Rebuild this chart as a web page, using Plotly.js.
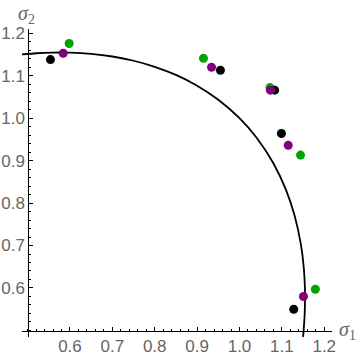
<!DOCTYPE html>
<html>
<head>
<meta charset="utf-8">
<script src="https://cdn.plot.ly/plotly-3.0.1.min.js"></script>
<style>
  body { margin: 0; background: #fff; }
  #plot { width: 360px; height: 355px; }
</style>
</head>
<body>
<div id="plot"></div>
<script>
// yield curve
var curveX = [0.484, 0.52, 0.56, 0.6, 0.65, 0.7, 0.75, 0.8, 0.85, 0.9, 0.95, 1.0, 1.04, 1.08, 1.11, 1.13, 1.145, 1.1515, 1.1544, 1.1547, 1.1539, 1.1514, 1.15];
var curveY = [1.150, 1.153, 1.1545, 1.1544, 1.1515, 1.1453, 1.1353, 1.1211, 1.1019, 1.0765, 1.0434, 1.0, 0.9545, 0.8938, 0.8305, 0.7707, 0.7019, 0.65, 0.6, 0.577, 0.54, 0.5, 0.485];

// points
var blackX = [0.554, 0.955, 1.083, 1.099, 1.128];
var blackY = [1.138, 1.113, 1.066, 0.964, 0.550];
var greenX = [0.598, 0.915, 1.072, 1.144, 1.179];
var greenY = [1.176, 1.141, 1.072, 0.913, 0.597];
var purpleX = [0.584, 0.934, 1.073, 1.115, 1.151];
var purpleY = [1.153, 1.120, 1.066, 0.936, 0.580];

var majorTicks = [0.6, 0.7, 0.8, 0.9, 1.0, 1.1, 1.2];
var tickLabels = ['0.6', '0.7', '0.8', '0.9', '1.0', '1.1', '1.2'];

var tickFont = {family: 'Liberation Sans, Arial, sans-serif', size: 17, color: '#666666'};

function dots(x, y, color) {
  return {
    x: x, y: y,
    type: 'scatter',
    mode: 'markers',
    marker: {color: color, size: 9},
    hoverinfo: 'skip'
  };
}

var traces = [
  {
    x: curveX, y: curveY,
    type: 'scatter',
    mode: 'lines',
    line: {color: 'black', width: 1.8, shape: 'spline', smoothing: 0.6},
    hoverinfo: 'skip'
  },
  dots(greenX, greenY, '#00a400'),
  dots(blackX, blackY, '#000000'),
  dots(purpleX, purpleY, '#800080')
];

function axis(range, pos) {
  return {
    range: range,
    anchor: 'free',
    position: pos,
    showline: true,
    linecolor: 'black',
    linewidth: 1,
    showgrid: false,
    zeroline: false,
    ticks: 'inside',
    ticklen: 4,
    tickcolor: 'black',
    tickmode: 'array',
    tickvals: majorTicks,
    ticktext: tickLabels,
    tickfont: tickFont,
    automargin: false,
    minor: {tickmode: 'linear', tick0: 0, dtick: 0.02, ticks: 'inside', ticklen: 2, tickcolor: 'black'}
  };
}

var layout = {
  width: 360,
  height: 355,
  margin: {l: 22, r: 28, t: 29, b: 18},
  paper_bgcolor: 'white',
  plot_bgcolor: 'white',
  showlegend: false,
  xaxis: axis([0.4868, 1.2183], 0.0211),
  yaxis: axis([0.4845, 1.2101], 0.0203),
  annotations: [
    {
      text: '<i>σ</i><sub>2</sub>',
      xref: 'paper', yref: 'paper',
      x: 0.0203, y: 1.0, xanchor: 'center', yanchor: 'bottom',
      xshift: -2,
      showarrow: false,
      font: {family: 'Liberation Serif, serif', size: 20, color: '#666666'}
    },
    {
      text: '<i>σ</i><sub>1</sub>',
      xref: 'paper', yref: 'paper',
      x: 1.0, y: 0.0211, xanchor: 'left', yanchor: 'middle',
      xshift: 5,
      showarrow: false,
      font: {family: 'Liberation Serif, serif', size: 20, color: '#666666'}
    }
  ]
};

Plotly.newPlot('plot', traces, layout, {staticPlot: true});
</script>
</body>
</html>
